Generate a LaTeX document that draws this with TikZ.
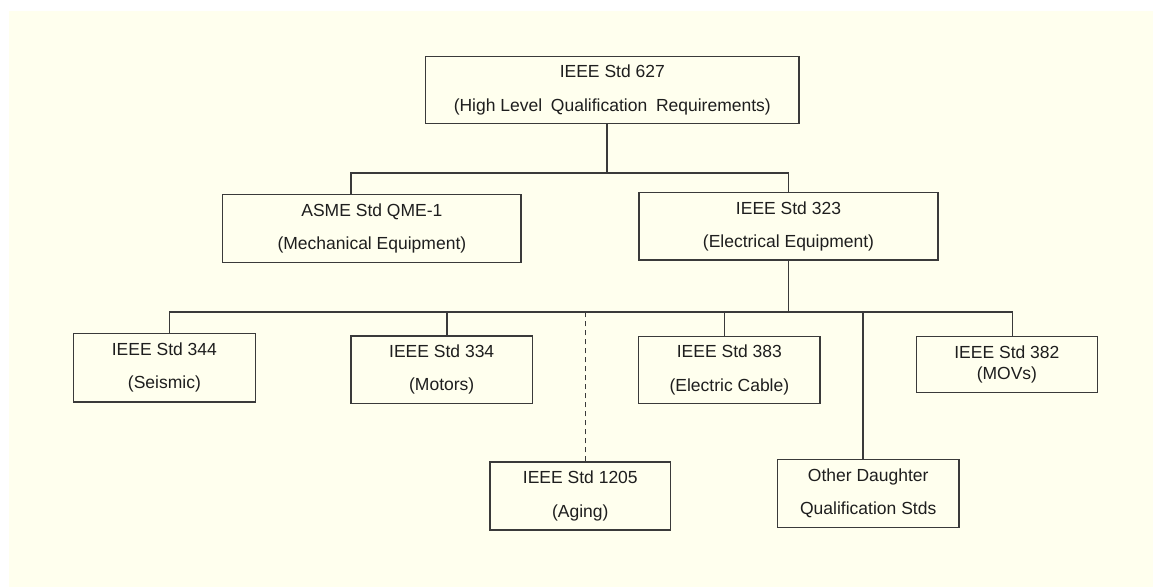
\documentclass[tikz,border=0pt]{standalone}
\usepackage{fontspec}
\setmainfont{Liberation Sans}
\definecolor{bgc}{HTML}{FFFFEE}
\definecolor{linec}{HTML}{3A3A3A}
\definecolor{textc}{HTML}{1E1E1E}
\begin{document}
\begin{tikzpicture}[x=1pt,y=-1pt,
  box/.style={draw=linec, line width=1.2pt, fill=bgc, inner sep=0pt, align=center,
    text=textc, font=\fontsize{17.5}{33.5}\selectfont},
  conn/.style={draw=linec, line width=1.2pt},
  dconn/.style={conn, dash pattern=on 5pt off 4pt}]
\fill[white] (0,0) rectangle (1153,587);
\useasboundingbox (0,0) rectangle (1153,587);
\fill[bgc] (9,11) rectangle (1153,587);
% bus levels
\coordinate (b1) at (0,173);
\coordinate (b2) at (0,312);
% boxes
\node[box, minimum width=373.3pt, minimum height=67.6pt] (n627) at (612.3,90)
  {IEEE Std 627\\(High Level\enspace Qualification\enspace Requirements)};
\node[box, minimum width=298.3pt, minimum height=68pt] (nqme) at (371.9,228.7)
  {ASME Std QME-1\\(Mechanical Equipment)};
\node[box, minimum width=299pt, minimum height=67.3pt] (n323) at (788.5,226.3)
  {IEEE Std 323\\(Electrical Equipment)};
\node[box, minimum width=181.8pt, minimum height=68.7pt] (n344) at (164.4,367.7)
  {IEEE Std 344\\(Seismic)};
\node[box, minimum width=181.3pt, minimum height=67.3pt] (n334) at (441.7,369.7)
  {IEEE Std 334\\(Motors)};
\node[box, minimum width=180.6pt, minimum height=68pt] (n1205) at (580.3,496)
  {IEEE Std 1205\\(Aging)};
\node[box, minimum width=181.2pt, minimum height=67pt] (n383) at (729.4,369.8)
  {IEEE Std 383\\(Electric Cable)};
\node[box, minimum width=181.6pt, minimum height=68pt] (nother) at (868.2,493.3)
  {Other Daughter\\Qualification Stds};
\node[box, minimum width=181.2pt, minimum height=56pt, font=\fontsize{17.5}{21}\selectfont] (nmov) at (1006.9,364.3)
  {IEEE Std 382\\(MOVs)};
% level 1 connectors
\draw[conn] ([xshift=-5.3pt]n627.south) -- ([xshift=-5.3pt]n627.south |- b1);
\draw[conn] ([xshift=-20.9pt]nqme.north) -- ([xshift=-20.9pt]nqme.north |- b1) -| (n323.north);
% level 2 connectors
\draw[conn] (n323.south) -- (n323.south |- b2);
\draw[conn] ([xshift=5.1pt]n344.north) -- ([xshift=5.1pt]n344.north |- b2)
  -- ([xshift=5.5pt]nmov.north |- b2) -- ([xshift=5.5pt]nmov.north);
\draw[conn] ([xshift=5.3pt]n334.north) -- ([xshift=5.3pt]n334.north |- b2);
\draw[conn] ([xshift=-5pt]n383.north) -- ([xshift=-5pt]n383.north |- b2);
\draw[conn] ([xshift=-5.3pt]nother.north) -- ([xshift=-5.3pt]nother.north |- b2);
\draw[dconn] ([xshift=5.2pt]n1205.north) -- ([xshift=5.2pt]n1205.north |- b2);
\end{tikzpicture}
\end{document}
